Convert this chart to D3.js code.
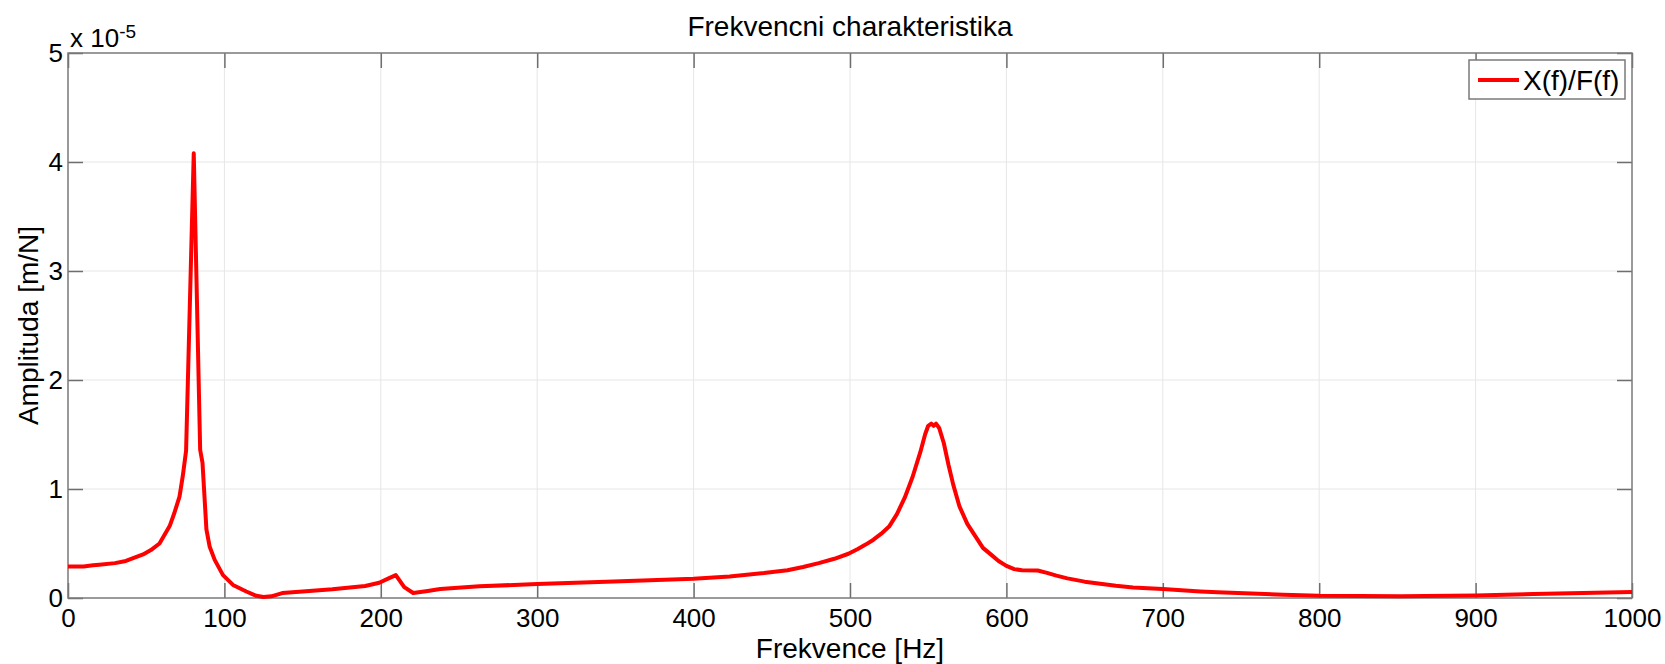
<!DOCTYPE html>
<html>
<head>
<meta charset="utf-8">
<script src="https://cdn.jsdelivr.net/npm/d3@7"></script>
<style>
  html, body { margin: 0; padding: 0; background: #fff; }
  svg text { font-family: "Liberation Sans", Arial, sans-serif; fill: #000; }
</style>
</head>
<body>
<div id="chart"></div>
<script>
// Frequency response X(f)/F(f), amplitude in units of 1e-5 m/N
const freq = [0, 10, 16, 20, 30, 37, 48, 53, 58.5, 65, 68, 71.3, 73.4, 75.5, 80.4, 84.5, 86, 88.5, 90.6, 93.8,
    99.1, 105.5, 114, 120.4, 125, 130, 137, 150, 169, 190, 199, 205, 209.6, 215, 220.7, 230, 238, 263, 300, 349,
    400, 423, 445, 460, 470, 480, 490, 499, 505, 510, 515, 520, 525, 530, 535, 540, 545, 548, 550, 552,
    553.5, 555, 557, 560, 563, 566, 570, 575, 580, 585, 590, 595, 600, 605, 610, 620, 626, 632, 639, 650,
    660, 670, 681, 700, 724, 735, 777, 800, 852, 900, 937, 1000];
const amplitude = [0.29, 0.29, 0.30, 0.305, 0.32, 0.34, 0.40, 0.44, 0.50, 0.66, 0.78, 0.93, 1.12, 1.35, 4.08, 1.36, 1.24, 0.63, 0.47, 0.35,
    0.21, 0.12, 0.06, 0.02, 0.01, 0.015, 0.045, 0.06, 0.08, 0.11, 0.14, 0.18, 0.21, 0.10, 0.046, 0.065, 0.083, 0.107, 0.128, 0.152,
    0.177, 0.198, 0.229, 0.255, 0.285, 0.32, 0.36, 0.406, 0.45, 0.49, 0.535, 0.59, 0.655, 0.77, 0.92, 1.11, 1.34, 1.50, 1.58, 1.60,
    1.58, 1.60, 1.56, 1.42, 1.22, 1.04, 0.84, 0.68, 0.57, 0.46, 0.40, 0.34, 0.295, 0.265, 0.255, 0.252, 0.23, 0.205, 0.18, 0.15,
    0.13, 0.112, 0.097, 0.082, 0.06, 0.052, 0.03, 0.02, 0.015, 0.024, 0.037, 0.055];
const xTicks = [0, 100, 200, 300, 400, 500, 600, 700, 800, 900, 1000];
const yTicks = [0, 1, 2, 3, 4, 5];
const title = 'Frekvencni charakteristika';
const xLabel = 'Frekvence [Hz]';
const yLabel = 'Amplituda [m/N]';
const seriesName = 'X(f)/F(f)';

const width = 1665, height = 664;
const margin = { top: 53, right: 33, bottom: 66, left: 68 };
const innerW = width - margin.left - margin.right;
const innerH = height - margin.top - margin.bottom;

const svg = d3.select('#chart').append('svg')
    .attr('width', width)
    .attr('height', height);

const g = svg.append('g').attr('transform', `translate(${margin.left},${margin.top})`);

const x = d3.scaleLinear().domain([0, 1000]).range([0, innerW]);
const y = d3.scaleLinear().domain([0, 5]).range([innerH, 0]);

// Grid
g.append('g').selectAll('line').data(xTicks.slice(1, -1)).join('line')
    .attr('x1', d => x(d)).attr('x2', d => x(d))
    .attr('y1', 0).attr('y2', innerH)
    .attr('stroke', '#e6e6e6').attr('stroke-width', 1);
g.append('g').selectAll('line').data(yTicks.slice(1, -1)).join('line')
    .attr('x1', 0).attr('x2', innerW)
    .attr('y1', d => y(d)).attr('y2', d => y(d))
    .attr('stroke', '#e6e6e6').attr('stroke-width', 1);

// Axes, ticks pointing inside on all four sides
const styleAxis = sel => {
    sel.select('.domain').remove();
    sel.selectAll('.tick line').attr('stroke', '#6e6e6e').attr('stroke-width', 1.5);
    sel.selectAll('.tick text').attr('font-size', 26).attr('fill', '#000');
};
g.append('g').attr('transform', `translate(0,${innerH})`)
    .call(d3.axisBottom(x).tickValues(xTicks).tickFormat(d3.format('d')).tickSize(-15).tickPadding(11))
    .call(styleAxis);
g.append('g')
    .call(d3.axisTop(x).tickValues(xTicks).tickSize(-15).tickFormat(''))
    .call(styleAxis);
g.append('g')
    .call(d3.axisLeft(y).tickValues(yTicks).tickFormat(d3.format('d')).tickSize(-15).tickPadding(5))
    .call(styleAxis);
g.append('g').attr('transform', `translate(${innerW},0)`)
    .call(d3.axisRight(y).tickValues(yTicks).tickSize(-15).tickFormat(''))
    .call(styleAxis);

// Box
g.append('rect')
    .attr('width', innerW).attr('height', innerH)
    .attr('fill', 'none').attr('stroke', '#7a7a7a').attr('stroke-width', 1.5);

// Series
const line = d3.line()
    .x((d, i) => x(freq[i]))
    .y(d => y(d));
g.append('path')
    .datum(amplitude)
    .attr('d', line)
    .attr('fill', 'none')
    .attr('stroke', '#ff0000')
    .attr('stroke-width', 4)
    .attr('stroke-linejoin', 'round');

// Exponent label
const expo = g.append('text').attr('x', 2).attr('y', -6).attr('font-size', 26);
expo.append('tspan').text('x 10');
expo.append('tspan').attr('dy', -9).attr('font-size', 19).text('-5');

// Titles
svg.append('text')
    .attr('x', margin.left + innerW / 2).attr('y', 36)
    .attr('text-anchor', 'middle').attr('font-size', 28)
    .text(title);
svg.append('text')
    .attr('x', margin.left + innerW / 2).attr('y', 658)
    .attr('text-anchor', 'middle').attr('font-size', 28)
    .text(xLabel);
svg.append('text')
    .attr('transform', `translate(38,${margin.top + innerH / 2}) rotate(-90)`)
    .attr('text-anchor', 'middle').attr('font-size', 28)
    .text(yLabel);

// Legend
const legend = g.append('g').attr('transform', `translate(${innerW - 163},7)`);
legend.append('rect')
    .attr('width', 156).attr('height', 39)
    .attr('fill', '#fff').attr('stroke', '#7a7a7a').attr('stroke-width', 1.5);
legend.append('line')
    .attr('x1', 9).attr('x2', 50).attr('y1', 20).attr('y2', 20)
    .attr('stroke', '#ff0000').attr('stroke-width', 4);
legend.append('text')
    .attr('x', 54).attr('y', 30).attr('font-size', 28)
    .text(seriesName);
</script>
</body>
</html>
